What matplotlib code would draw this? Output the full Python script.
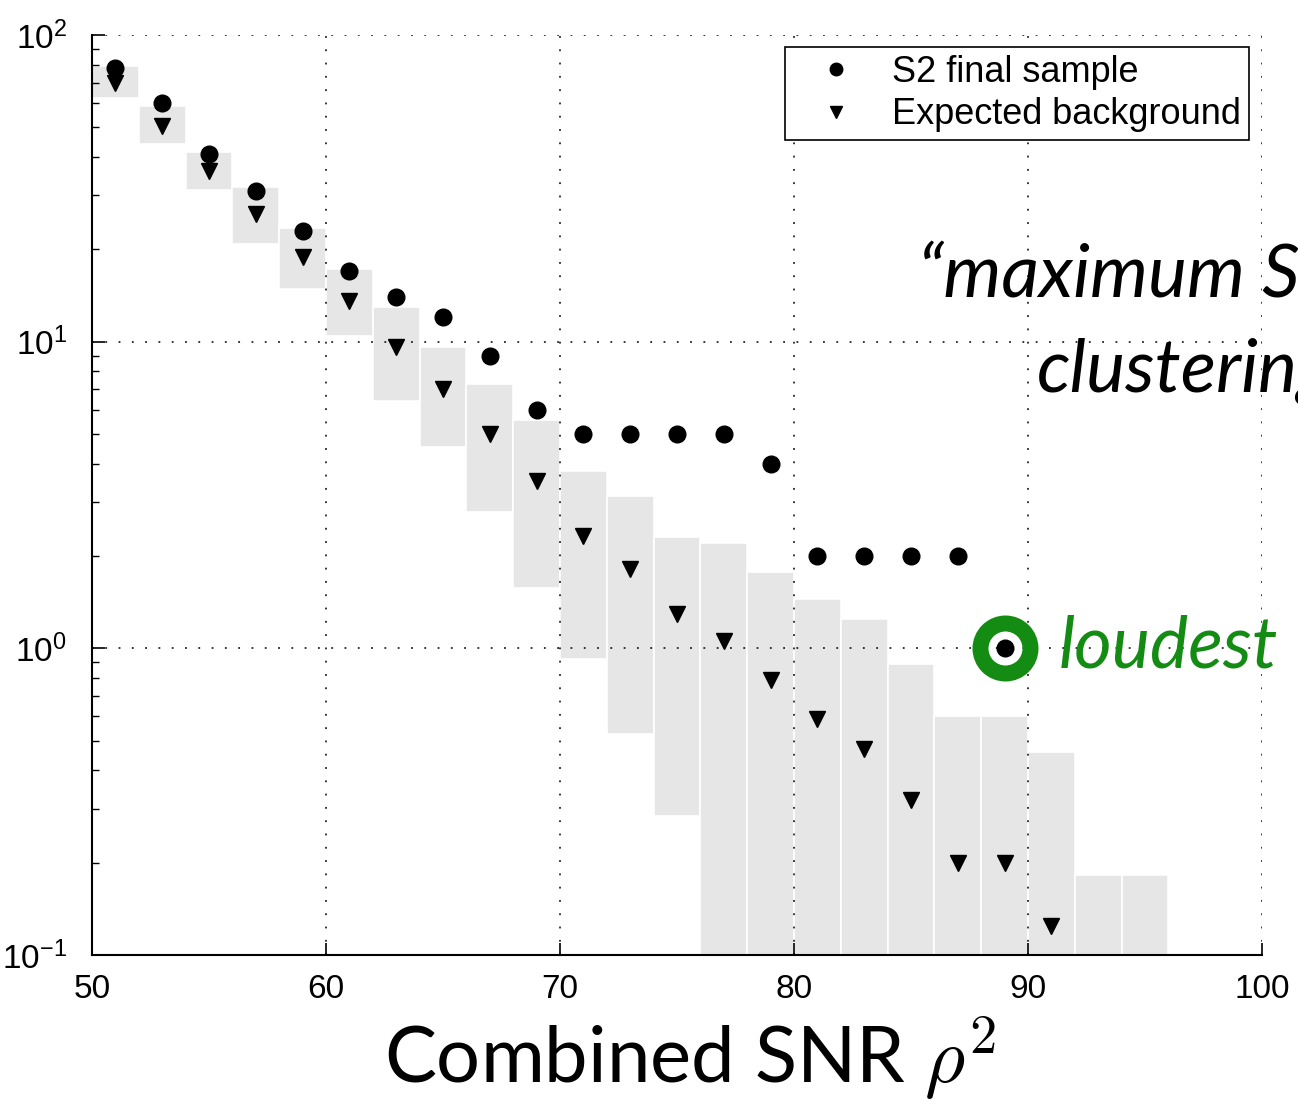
import numpy as np
import matplotlib
matplotlib.use("Agg")
import matplotlib.pyplot as plt

plt.rcParams['font.family'] = ['Liberation Sans', 'DejaVu Sans']
plt.rcParams['mathtext.fontset'] = 'custom'
plt.rcParams['mathtext.rm'] = 'Liberation Sans'

# cumulative counts above each SNR^2 threshold
snr2 = [51, 53, 55, 57, 59, 61, 63, 65, 67, 69, 71, 73, 75, 77, 79, 81, 83, 85, 87, 89]
s2_counts = [78, 60, 41, 31, 23, 17, 14, 12, 9, 6, 5, 5, 5, 5, 4, 2, 2, 2, 2, 1]

bg_snr2 = [51, 53, 55, 57, 59, 61, 63, 65, 67, 69, 71, 73, 75, 77, 79, 81, 83, 85, 87, 89, 91]
bg_expected = [70, 50.6, 36, 26, 18.9, 13.6, 9.6, 7.0, 5.0, 3.5, 2.33, 1.82, 1.29, 1.06,
               0.79, 0.59, 0.47, 0.32, 0.20, 0.20, 0.124]

# background uncertainty band per 2-unit bin (lower edge 0.01 = below the plot)
bin_left = list(range(50, 96, 2))
band_low = [62.4, 44.2, 31.3, 20.8, 14.9, 10.4, 6.4, 4.52, 2.79, 1.57, 0.92, 0.525, 0.284,
            0.01, 0.01, 0.01, 0.01, 0.01, 0.01, 0.01, 0.01, 0.01, 0.01]
band_high = [79, 58.8, 41.6, 32, 23.5, 17.3, 13.0, 9.64, 7.3, 5.57, 3.8, 3.15, 2.30,
             2.21, 1.78, 1.45, 1.25, 0.89, 0.60, 0.60, 0.458, 0.182, 0.182]

loudest_x = 89
loudest_y = 1

green = '#148c14'

fig = plt.figure(figsize=(12.98, 11.08), dpi=100)
ax = fig.add_axes([0.0709, 0.1381, 0.9014, 0.8303])

heights = np.array(band_high) - np.array(band_low)
ax.bar(bin_left, heights, bottom=band_low, width=2, align='edge',
       color='#e6e6e6', edgecolor='white', linewidth=1.2, zorder=1)

ax.plot(snr2, s2_counts, 'o', color='black', markersize=12, label='S2 final sample', zorder=3)
ax.plot(bg_snr2, bg_expected, 'v', color='black', markersize=12, label='Expected background', zorder=3)

# highlight the loudest event
ax.plot([loudest_x], [loudest_y], 'o', markerfacecolor='none', markeredgecolor=green,
        markersize=36, markeredgewidth=11.5, zorder=4)

ax.set_yscale('log')
ax.set_xlim(50, 100)
ax.set_ylim(0.1, 100)
ax.set_xticks([50, 60, 70, 80, 90, 100])
ax.set_yticks([0.1, 1, 10, 100])
ax.set_yticklabels(['$\\mathregular{10^{-1}}$', '$\\mathregular{10^{0}}$',
                    '$\\mathregular{10^{1}}$', '$\\mathregular{10^{2}}$'])

ax.grid(True, which='major', color='black', linestyle=(0, (1.2, 7.5)), linewidth=1.1)
ax.spines['top'].set_visible(False)
ax.spines['right'].set_visible(False)
for s in ['left', 'bottom']:
    ax.spines[s].set_linewidth(1.5)
ax.tick_params(axis='both', which='major', direction='in', length=9, width=1.2,
               labelsize=24, pad=14)
ax.tick_params(axis='y', which='minor', direction='in', length=5, width=1.0)
ax.tick_params(axis='y', which='major', pad=18)

leg = ax.legend(loc='upper right', bbox_to_anchor=(0.9885, 0.987), fontsize=26,
                frameon=True, fancybox=False, edgecolor='black', framealpha=1,
                markerscale=0.75, handletextpad=0.35, borderpad=0.22, labelspacing=0.2,
                handlelength=2.4, borderaxespad=0)
leg.get_frame().set_linewidth(1.2)

fig.text(0.707, 0.732, '\u201cmaximum SNR', fontsize=53, fontfamily='Lato',
         style='italic', ha='left', va='baseline')
fig.text(0.799, 0.646, 'clustering', fontsize=53, fontfamily='Lato',
         style='italic', ha='left', va='baseline')
fig.text(0.816, 0.398, 'loudest', fontsize=52, fontfamily='Lato', color=green,
         style='italic', ha='left', va='baseline')

fig.text(0.296, 0.022, 'Combined SNR $\\rho^{2}$', fontsize=56, fontfamily='Lato',
         math_fontfamily='cm', ha='left', va='baseline')

fig.savefig('out.png', dpi=100)
